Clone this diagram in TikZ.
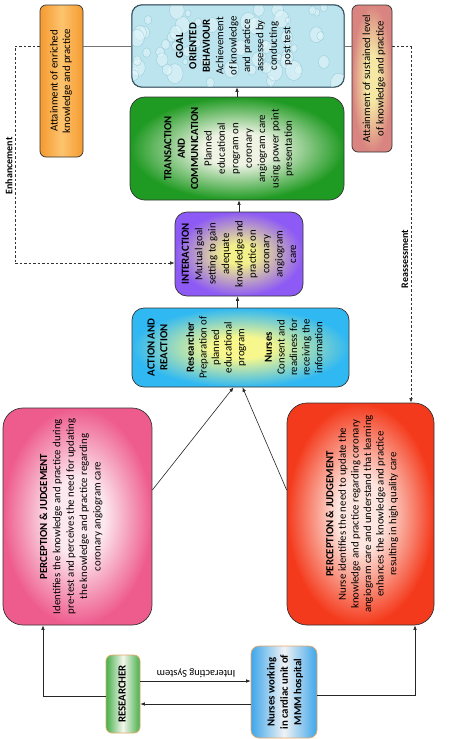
\documentclass[tikz,border=0pt]{standalone}
\usepackage{fontspec}
\setmainfont{Carlito}
\usetikzlibrary{arrows.meta,calc}
\definecolor{pinkout}{HTML}{EE5C8E}
\definecolor{pinkin}{HTML}{FCE8EF}
\definecolor{redout}{HTML}{F43A1C}
\definecolor{redin}{HTML}{FDE6DF}
\definecolor{greenout}{HTML}{1F9A22}
\definecolor{greenin}{HTML}{EEF3E4}
\definecolor{purpout}{HTML}{8D5AF5}
\definecolor{purpin}{HTML}{F2F08A}
\definecolor{cyanout}{HTML}{30B8F2}
\definecolor{cyanin}{HTML}{F7F78E}
\definecolor{tanout}{HTML}{D98480}
\definecolor{tanin}{HTML}{F4E8A4}
\definecolor{orgout}{HTML}{F59A30}
\definecolor{orgin}{HTML}{FCC46E}
\definecolor{resgreen}{HTML}{45B04B}
\definecolor{resmid}{HTML}{F4F6EC}
\definecolor{nurblue}{HTML}{3EA6EA}
\definecolor{nurmid}{HTML}{F0F2F4}
\definecolor{softorange}{HTML}{E7A86A}
\definecolor{goalfill}{HTML}{BCE4EE}
\definecolor{goaldrop}{HTML}{E2F5F9}
\definecolor{goalrim}{HTML}{86C2D2}
\definecolor{goalborder}{HTML}{34505E}
\pgfdeclareradialshading{pinkrad}{\pgfpoint{0bp}{0bp}}{color(0bp)=(pinkin);color(9bp)=(pinkin);color(25bp)=(pinkout);color(50bp)=(pinkout)}
\pgfdeclareradialshading{redrad}{\pgfpoint{0bp}{0bp}}{color(0bp)=(redin);color(8bp)=(redin);color(25bp)=(redout);color(50bp)=(redout)}
\pgfdeclareradialshading{greenrad}{\pgfpoint{0bp}{0bp}}{color(0bp)=(greenin);color(8bp)=(greenin);color(25bp)=(greenout);color(50bp)=(greenout)}
\pgfdeclareradialshading{purprad}{\pgfpoint{0bp}{0bp}}{color(0bp)=(purpin);color(6bp)=(purpin);color(25bp)=(purpout);color(50bp)=(purpout)}
\pgfdeclareradialshading{cyanrad}{\pgfpoint{0bp}{0bp}}{color(0bp)=(cyanin);color(7bp)=(cyanin);color(25bp)=(cyanout);color(50bp)=(cyanout)}
\pgfdeclareradialshading{tanrad}{\pgfpoint{0bp}{0bp}}{color(0bp)=(tanin);color(8bp)=(tanin);color(25bp)=(tanout);color(50bp)=(tanout)}
\begin{document}
\begin{tikzpicture}[x=1pt,y=-1pt,
  bx/.style={draw=black!80, line width=0.7pt, inner sep=0pt},
  txt/.style={rotate=90, align=center, inner sep=0pt, font=\fontsize{10.8}{12.6}\selectfont, text=black},
  txtw/.style={rotate=90, align=center, inner sep=0pt, font=\fontsize{10.8}{13.4}\selectfont, text=black},
  arr/.style={-{Latex[length=4.5pt,width=3.6pt]}, line width=0.6pt, draw=black!85},
  ln/.style={line width=0.6pt, draw=black!55},
  dsh/.style={dash pattern=on 2.5pt off 2pt, line width=0.6pt, draw=black!80},
  lbl/.style={inner sep=0pt, font=\bfseries\fontsize{10}{12}\selectfont}]
\useasboundingbox (0,0) rectangle (448,739);
\fill[white] (0,0) rectangle (448,739);

% boxes
\node[bx, minimum width=43pt, minimum height=152pt, rounded corners=6pt,
      left color=orgout, right color=orgout, middle color=orgin] (orange) at (61.5,81) {};
\node[bx, minimum width=212pt, minimum height=82pt, rounded corners=10pt,
      fill=goalfill, draw=goalborder] (goal) at (238,46) {};
\begin{scope}
  \clip[rounded corners=10pt] (132.5,5.5) rectangle (343.5,86.5);
  \pgfmathsetseed{11}
  \foreach \i in {1,...,60}{
    \pgfmathsetmacro\xx{134+rnd*208}
    \pgfmathsetmacro\yy{7+rnd*78}
    \pgfmathsetmacro\rr{2.5+rnd*6}
    \fill[goaldrop, opacity=0.6] (\xx,\yy) ellipse[x radius=\rr, y radius=1.2*\rr];
    \draw[goalrim, opacity=0.7, line width=0.4pt] (\xx,\yy) ellipse[x radius=\rr, y radius=1.2*\rr];
  }
\end{scope}
\draw[goalborder, line width=0.7pt, rounded corners=10pt] (goal.south west) rectangle (goal.north east);
\node[bx, minimum width=40pt, minimum height=147pt, rounded corners=6pt, shade, shading=tanrad] (tan) at (372,78.5) {};
\node[bx, minimum width=214pt, minimum height=103pt, rounded corners=15pt, shade, shading=greenrad] (trans) at (237,148.5) {};
\node[bx, minimum width=128pt, minimum height=84pt, rounded corners=12pt, shade, shading=purprad] (inter) at (239,254) {};
\node[bx, minimum width=217pt, minimum height=79pt, rounded corners=12pt, shade, shading=cyanrad] (action) at (240.5,347.5) {};
\node[bx, minimum width=149pt, minimum height=217pt, rounded corners=20pt, shade, shading=pinkrad] (pinkp) at (77.5,516.5) {};
\node[bx, minimum width=147pt, minimum height=222pt, rounded corners=20pt, shade, shading=redrad] (redp) at (360.5,514) {};
\node[bx, draw=softorange, minimum width=34pt, minimum height=78pt, rounded corners=6pt,
      left color=resgreen, right color=resgreen, middle color=resmid] (res) at (123,694) {};
\node[bx, draw=softorange, minimum width=66pt, minimum height=92pt, rounded corners=8pt,
      left color=nurblue, right color=nurblue, middle color=nurmid] (nur) at (284,692) {};

% texts
\node[txt] (torange) at (61,81) {Attainment of enriched\\knowledge and practice};
\node[txtw] (tgoal) at (234,46) {\textbf{GOAL}\\\textbf{ORIENTED}\\\textbf{BEHAVIOUR}\\Achievement\\of knowledge\\and practice\\assessed by\\conducting\\post test};
\node[txtw] (ttan) at (374,78.5) {Attainment of sustained level\\of knowledge and practice};
\node[txtw] (ttrans) at (229,148.5) {\textbf{TRANSACTION}\\\textbf{AND}\\\textbf{COMMUNICATION}\\Planned\\educational\\program on\\coronary\\angiogram care\\using power point\\presentation};
\node[txtw] (tinter) at (239,254) {\textbf{INTERACTION}\\Mutual goal\\setting to gain\\adequate\\knowledge and\\practice on\\coronary\\angiogram\\care};
\node[txt] (taction) at (235,347.5) {\textbf{ACTION AND}\\\textbf{REACTION}\\[14pt]\textbf{Researcher}\\Preparation of\\planned\\educational\\program\\[15pt]\textbf{Nurses}\\Consent and\\readiness for\\receiving the\\information};
\node[txtw] (tpink) at (71,516.5) {\textbf{PERCEPTION \& JUDGEMENT}\\Identifies the knowledge and practice during\\pre-test and perceives the need for updating\\the knowledge and practice regarding\\coronary angiogram care};
\node[txt] (tred) at (362,514) {\textbf{PERCEPTION \& JUDGEMENT}\\Nurse identifies the need to update the\\knowledge and practice regarding coronary\\angiogram care and understand that learning\\enhances the knowledge and practice\\resulting in high quality care};
\node[txt] (tres) at (122,694) {\textbf{RESEARCHER}};
\node[txtw] (tnur) at (285,692) {\textbf{Nurses working}\\\textbf{in cardiac unit of}\\\textbf{MMM hospital}};

% labels
\node[lbl, rotate=90] (lenh) at (9,166) {Enhancement};
\node[lbl, rotate=90] (lrea) at (405,259) {Reassessment};
\node[inner sep=0pt, rotate=180, font=\fontsize{10.5}{12}\selectfont] (lint) at (196,673) {Interacting System};

% connectors
\draw[ln] (goal.west) -- (orange.east |- goal.west);
\draw[ln] (goal.east) -- (tan.west |- goal.east);
\draw[arr] (trans.north) -- (trans.north |- goal.south);
\draw[arr] (inter.north) -- (inter.north |- trans.south);
\draw[arr] ([xshift=-3pt]action.north) -- ([xshift=-3pt]action.north |- inter.south);
\coordinate (pk) at (152,490);
\coordinate (rd) at (287,490);
\draw[arr] (pinkp.east |- pk) -- ([xshift=-7pt]action.south);
\draw[arr] (redp.west |- rd) -- ([xshift=2pt]action.south);
\coordinate (e1) at (15,46);
\coordinate (e2) at (15,263);
\draw[dsh] (orange.west |- e1) -- (e1) -- (e2);
\draw[dsh, -{Latex[length=4.5pt,width=3.6pt]}] (e2) -- (inter.west |- e2);
\coordinate (r1) at (411,46);
\draw[dsh] (tan.east |- r1) -- (r1);
\draw[dsh, -{Latex[length=4.5pt,width=3.6pt]}] (r1) -- (r1 |- redp.north);
\coordinate (c1) at (43,696);
\draw[arr] (res.west |- c1) -- (c1) -- (c1 |- pinkp.south);
\coordinate (c2) at (415,695);
\draw[arr] (nur.east |- c2) -- (c2) -- (c2 |- redp.south);
\coordinate (i1) at (0,681);
\coordinate (i2) at (0,704);
\draw[arr] (res.east |- i1) -- (nur.west |- i1);
\draw[arr] (nur.west |- i2) -- (res.east |- i2);
\end{tikzpicture}
\end{document}
